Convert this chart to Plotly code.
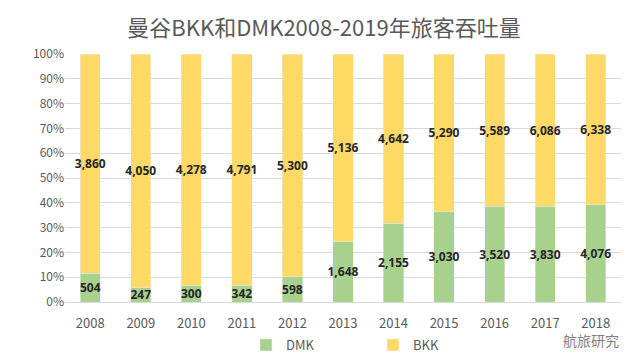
import plotly.graph_objects as go

years = ["2008", "2009", "2010", "2011", "2012", "2013", "2014", "2015", "2016", "2017", "2018"]
dmk = [504, 247, 300, 342, 598, 1648, 2155, 3030, 3520, 3830, 4076]
bkk = [3860, 4050, 4278, 4791, 5300, 5136, 4642, 5290, 5589, 6086, 6338]

font_cjk = "Noto Sans CJK SC, Open Sans, sans-serif"
# page body adds an 8px offset; figure sized to fit the 640x363 window
W, H = 632, 355
OFF = 8
TOP = 54 - OFF
BOT = H - (302 - OFF)
LEFT = 65 - OFF
RIGHT = W - (621 - OFF)
PLOT_H = H - TOP - BOT
PLOT_W = W - LEFT - RIGHT

def fmt(v):
    return f"{v:,}"

label_font = dict(color="#262626", size=12, family="Open Sans, sans-serif", weight="bold")

fig = go.Figure()
fig.add_trace(go.Bar(
    x=years, y=dmk, name="DMK", marker_color="#A9D18E",
    text=[fmt(v) for v in dmk], textposition="inside", insidetextanchor="middle",
    textangle=0, textfont=label_font, constraintext="none", cliponaxis=False,
))
fig.add_trace(go.Bar(
    x=years, y=bkk, name="BKK", marker_color="#FFD966",
    text=[fmt(v) for v in bkk], textposition="inside", insidetextanchor="middle",
    textangle=0, textfont=label_font, constraintext="none", cliponaxis=False,
))

fig.update_layout(
    barmode="stack", barnorm="percent", bargap=0.6,
    width=W, height=H,
    margin=dict(l=LEFT, r=RIGHT, t=TOP, b=BOT, autoexpand=False),
    paper_bgcolor="white", plot_bgcolor="white",
    title=dict(text="曼谷BKK和DMK2008-2019年旅客吞吐量", x=0.5, xanchor="center",
               y=1 - (28 - OFF) / H, yref="container", yanchor="middle",
               font=dict(family=font_cjk, size=22, color="#595959")),
    font=dict(family=font_cjk, color="#595959", size=12),
    uniformtext=dict(minsize=12, mode="show"),
    legend=dict(orientation="h", x=(246 - 65) / PLOT_W, xanchor="left",
                y=(H - (345 - OFF)) / H,
                yref="container", yanchor="middle",
                font=dict(size=13, color="#595959"), itemwidth=30, traceorder="normal",
                entrywidth=82),
    showlegend=True,
)
fig.update_yaxes(range=[0, 100], dtick=10, ticksuffix="%", showgrid=True, gridcolor="#D9D9D9",
                 zeroline=False, showline=False, tickfont=dict(size=12, color="#595959"))
fig.update_xaxes(showline=True, linecolor="#D9D9D9", tickfont=dict(size=13, color="#595959"),
                 ticklabelstandoff=9)

fig.add_annotation(text="航旅研究", xref="paper", yref="paper", x=1.0,
                   y=(H - BOT - (340 - OFF)) / PLOT_H,
                   xanchor="right", yanchor="middle", showarrow=False,
                   font=dict(family=font_cjk, size=14, color="#7F7F7F"))

fig.write_html("out.html")
